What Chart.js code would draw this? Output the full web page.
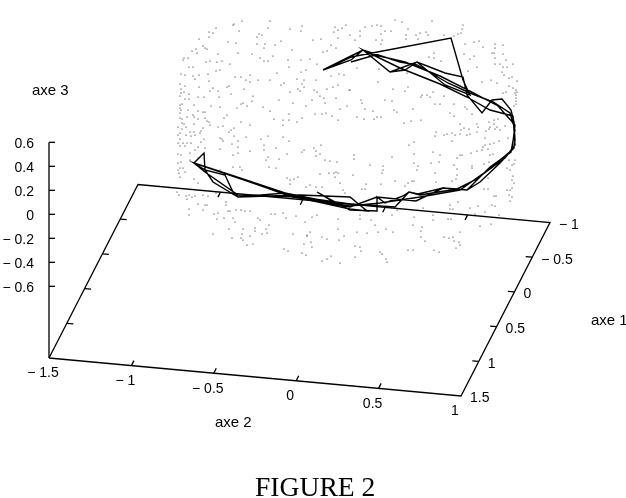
<!DOCTYPE html>
<html>
<head>
<meta charset="utf-8">
<style>
html,body{margin:0;padding:0;background:#fff;}
canvas{display:block;}
</style>
<script src="https://cdn.jsdelivr.net/npm/chart.js@4"></script>
</head>
<body>
<canvas id="chart" width="626" height="498"></canvas>
<script>
// -------- tick values --------
const axe1Ticks = [-1,-0.5,0,0.5,1,1.5];
const axe2Ticks = [-1.5,-1,-0.5,0,0.5,1];
const axe3Ticks = [0.6,0.4,0.2,0,-0.2,-0.4,-0.6];

// -------- point cloud (view x, view y) --------
const cloudPoints = [
[242,21],[234,24],[233,25],[216,28],[239,31],[209,32],[213,33],[209,37],[199,39],[257,37],[259,34],[262,35],[268,28],[270,21],[290,29],[302,26],[301,31],[281,41],[313,40],[321,39],[335,27],[346,25],[342,28],[338,30],[334,32],[338,38],[228,42],[236,43],[257,44],[265,44],[275,45],[264,48],[203,46],[205,48],[207,49],[196,49],[192,51],[197,53],[292,50],[331,45],[336,48],[327,51],[323,52],[238,53],[252,54],[218,54],[273,56],[260,58],[184,58],[183,60],[188,58],[310,59],[206,62],[210,61],[217,62],[222,61],[230,64],[264,61],[268,61],[288,60],[301,60],[317,64],[193,67],[189,67],[216,71],[220,70],[289,67],[306,70],[301,72],[208,74],[199,75],[193,76],[181,74],[185,75],[277,73],[235,77],[241,77],[246,80],[250,75],[250,82],[258,80],[270,80],[297,79],[304,80],[316,80],[331,76],[339,74],[344,75],[195,79],[209,81],[180,84],[284,83],[281,85],[302,84],[229,86],[227,87],[185,86],[199,87],[213,88],[181,89],[210,91],[218,91],[244,89],[304,87],[298,89],[314,90],[317,92],[327,89],[333,87],[338,85],[349,90],[231,94],[290,92],[300,91],[181,93],[184,92],[189,94],
[253,96],[180,96],[185,99],[189,99],[198,97],[204,97],[219,97],[279,100],[320,96],[324,98],[336,98],[312,100],[252,101],[243,103],[241,104],[247,106],[293,103],[306,106],[325,103],[194,105],[211,106],[220,107],[237,108],[263,107],[180,105],[182,104],[180,108],[181,110],[188,110],[198,111],[203,112],[205,112],[270,111],[340,109],[347,106],[315,114],[322,114],[326,113],[332,116],[289,114],[180,113],[193,115],[187,117],[194,117],[198,119],[205,118],[180,118],[182,119],[224,118],[227,115],[274,119],[283,120],[289,120],[302,118],[338,120],[207,121],[209,122],[210,125],[218,127],[223,126],[241,122],[283,125],[297,122],[250,125],[182,123],[184,124],[178,127],[186,127],[194,124],[203,128],[182,129],[234,128],[231,130],[201,131],[190,132],[194,132],[180,133],[178,135],[186,135],[195,135],[191,136],[200,133],[229,132],[234,136],[246,137],[268,136],[283,137],[261,139],[220,138],[222,139],[204,139],[180,139],
[395,20],[402,22],[432,21],[365,27],[372,26],[377,25],[381,26],[385,31],[391,31],[360,31],[350,35],[360,36],[408,29],[463,25],[462,29],[461,33],[458,34],[454,36],[444,35],[426,32],[420,33],[416,35],[406,35],[428,35],[381,34],[382,40],[376,40],[381,44],[406,39],[418,39],[355,40],[474,42],[479,41],[465,44],[483,47],[495,44],[503,45],[464,54],[495,48],[494,53],[492,53],[503,54],[513,64],[434,53],[429,57],[434,58],[441,61],[474,56],[470,59],[495,58],[495,64],[500,64],[506,60],[503,67],[507,67],[502,72],[504,75],[512,77],[509,78],[517,81],[477,67],[468,71],[357,68],[379,69],[405,62],[407,73],[378,82],[408,87],[393,89],[405,91],[482,82],[491,80],[497,83],[509,86],[513,88],[516,90],[517,92],[515,93],[516,95],[506,92],[503,93],[350,90],[433,92],[421,97],[422,95],[427,95],[430,97],[444,96],[361,100],[362,103],[385,100],[392,101],[435,104],[440,104],[454,104],[465,107],[516,98],[516,101],[516,104],[514,106],[365,109],[373,111],[394,110],[397,112],[413,109],[467,109],[472,114],[450,113],[454,116],[357,117],[364,119],[374,119],[377,117],[381,117],[404,123],[411,121],[421,120],[460,124],[477,124],[478,127],[489,122],[494,120],[498,119],[494,124],[497,127],[490,127],[489,129],[495,129],[500,130],[505,126],[464,128],[461,130],[469,129],[470,134],[460,134],[467,135],[477,132],[486,131],[436,132],[435,136],[444,135],[447,134],[452,133],[455,135],[485,138],[508,138],
[223,141],[238,141],[178,143],[183,143],[187,143],[191,143],[180,146],[185,146],[201,142],[198,147],[205,148],[232,144],[220,149],[238,147],[250,151],[264,145],[276,148],[264,150],[289,141],[287,154],[233,155],[238,153],[178,154],[181,155],[190,153],[195,150],[190,160],[198,158],[266,160],[279,159],[268,157],[304,150],[302,152],[314,148],[321,145],[316,151],[320,154],[316,156],[325,160],[330,161],[337,162],[178,163],[181,162],[180,168],[183,168],[178,170],[185,172],[179,173],[180,177],[220,170],[233,167],[240,167],[242,170],[269,167],[276,168],[334,173],[336,172],[329,173],[320,174],[338,173],[335,177],[298,177],[287,178],[290,180],[294,179],[290,184],[194,179],[198,183],[340,183],[310,185],[306,187],[316,187],[322,187],[343,190],[345,193],[177,192],[179,195],[186,196],[189,195],[192,197],[195,196],[187,199],[203,195],[208,196],[216,193],[226,202],[198,204],[205,205],[207,205],[226,205],[203,210],[189,209],[189,215],[214,214],[218,213],[228,211],[230,211],[236,210],[241,210],[245,211],[250,211],[233,218],[217,219],[224,218],[235,222],[258,218],[260,220],[271,214],[275,214],[283,213],[286,218],[296,216],[312,217],[317,215],[305,222],[338,219],[229,229],[213,234],[243,229],[255,228],[255,231],[269,225],[266,229],[267,233],[262,234],[242,234],[250,236],[232,238],[241,238],[243,240],[247,245],[253,244],[293,234],[307,235],[310,232],[307,236],[338,229],[322,237],[327,239],[339,240],[344,236],[304,244],[311,242],[312,247],[284,249],[288,251],[302,253],[306,255],[331,256],[327,259],[322,261],[340,263],
[414,142],[409,145],[452,141],[354,155],[354,159],[392,157],[414,154],[433,152],[440,155],[439,162],[431,163],[414,163],[370,165],[383,166],[383,170],[382,173],[418,166],[417,170],[435,173],[353,175],[462,155],[460,155],[457,158],[454,165],[457,169],[457,175],[456,179],[436,182],[452,181],[414,181],[412,181],[408,183],[405,186],[366,184],[362,189],[365,189],[381,184],[395,181],[471,153],[477,151],[482,150],[485,145],[490,144],[494,143],[499,141],[488,149],[483,147],[490,155],[493,154],[472,166],[472,168],[484,164],[489,162],[507,168],[509,160],[515,160],[514,164],[512,165],[506,156],[510,170],[513,176],[512,180],[514,183],[512,188],[510,190],[509,195],[512,197],[510,201],[488,178],[484,189],[488,189],[507,190],[496,196],[494,196],[492,205],[495,206],[478,206],[470,208],[450,205],[458,202],[450,209],[453,209],[475,214],[485,212],[499,215],[480,226],[491,224],[433,215],[433,220],[448,219],[451,219],[414,217],[413,225],[392,215],[423,208],[397,210],[360,215],[371,220],[360,219],[375,225],[386,229],[378,232],[393,232],[367,233],[357,232],[422,227],[421,231],[421,237],[425,241],[444,237],[449,238],[453,237],[460,232],[454,241],[459,242],[460,245],[456,248],[434,250],[439,252],[413,250],[408,250],[355,246],[360,247],[361,251],[355,257],[380,252],[382,254],[386,259],[387,262]
];

// -------- the trajectory, several noisy laps --------
const curvePoints = [
[323,70],[351,56],[363,50],[390,72],[417,62],[445,73],[463,77],[467,95],[482,113],[492,100],[502,99],[511,110],[514,122],[515,140],[514,148],[500,163],[480,182],[467,190],[457,189],[443,188],[418,194],[409,192],[403,196],[385,203],[377,197],[377,211],[350,210],[317,192],[335,203],[285,193],[238,197],[233,192],[225,175],[205,170],[204,153],[194,163],[240,178],[285,193],[300,198],[350,209],[367,211],
[350,197],[300,195],[238,197],[213,182],[205,170],[194,163],[250,182],[290,196],[350,207],[377,197],[416,201],[443,188],[467,190],[490,167],[511,152],[515,130],[510,113],[493,102],[470,93],[448,83],[417,65],[400,62],[363,50],[351,60],[323,70],
[351,57],[451,38],[463,80],[470,95],[445,85],[417,62],[405,70],[390,72],[363,50],[400,68],[440,84],[467,97],[490,110],[513,116],[515,145],[505,158],[475,180],[457,189],[420,195],[409,192],[395,207],[350,204],[300,197],[238,195],[205,172],
[194,163],[245,180],[292,197],[350,206],[380,203],[420,197],[460,190],[488,170],[512,150],[515,125],[498,106],[472,92],[440,76],[405,62],[375,55],[351,62]
];

// -------- projection of the 3d box to the page --------
function base(a1,a2){
    return {
        x: 49 + (a2+1.5)*164.8 + (1.5-a1)*35.6,
        y: 358 + (a2+1.5)*15.2 - (1.5-a1)*69.4
    };
}
function vert(a3){
    return {x: 49, y: 214.3 - a3*120};
}
function fmt(v){
    return v<0 ? '\u2212 '+Math.abs(v) : String(v);
}
function seg(p,dx,dy){
    return [p,{x:p.x+dx,y:p.y+dy}];
}

const lineSets = [];
// frame of the base and the vertical axis
lineSets.push([base(1.5,-1.5),base(-1,-1.5),base(-1,1),base(1.5,1),base(1.5,-1.5)]);
lineSets.push([vert(0.6),{x:49,y:358}]);
// ticks
axe3Ticks.forEach(v=>lineSets.push(seg(vert(v),6,0)));
axe2Ticks.slice(1,5).forEach(v=>{
    lineSets.push(seg(base(1.5,v),2.5,-5));
    lineSets.push(seg(base(-1,v),-2.5,5));
});
axe1Ticks.slice(1,5).forEach(v=>{
    lineSets.push(seg(base(v,1),-6.5,-0.5));
    lineSets.push(seg(base(v,-1.5),6.5,0.5));
});

const datasets = lineSets.map(pts=>({
    data:pts, showLine:true, pointRadius:0, borderColor:'#000', borderWidth:1.3
}));
datasets.push({
    data:curvePoints.map(p=>({x:p[0],y:p[1]})),
    showLine:true, pointRadius:0, borderColor:'#000', borderWidth:1.4, lineTension:0
});
datasets.push({
    data:cloudPoints.map(p=>({x:p[0],y:p[1]})),
    showLine:false, pointRadius:0.6, pointBorderWidth:0, pointBackgroundColor:'#000'
});

// -------- text labels --------
const textPlugin = {
    id:'textPlugin',
    afterDraw(chart){
        const ctx = chart.ctx, sx = chart.scales.x, sy = chart.scales.y;
        function put(str,x,y,align,font){
            ctx.font = font || '14px "Liberation Sans"';
            ctx.textAlign = align;
            ctx.textBaseline = 'middle';
            ctx.fillStyle = '#000';
            ctx.fillText(str,sx.getPixelForValue(x),sy.getPixelForValue(y)+1.5);
        }
        ctx.save();
        axe3Ticks.forEach(v=>{ let p=vert(v); put(fmt(v),34,p.y,'right'); });
        axe2Ticks.forEach(v=>{ let p=base(1.5,v); put(fmt(v),p.x-6,p.y+14,'center'); });
        axe1Ticks.forEach(v=>{ let p=base(v,1); put(fmt(v),p.x+9,p.y+1,'left'); });
        const titleFont = '15px "Liberation Sans"';
        put('axe 1',591,319,'left',titleFont);
        put('axe 2',215,421,'left',titleFont);
        put('axe 3',32,89,'left',titleFont);
        put('FIGURE 2',255,487,'left','27.6px "Liberation Serif"');
        ctx.restore();
    }
};

new Chart(document.getElementById('chart'),{
    type:'scatter',
    data:{datasets:datasets},
    options:{
        responsive:false,
        animation:false,
        layout:{padding:0,autoPadding:false},
        plugins:{legend:{display:false},tooltip:{enabled:false}},
        scales:{
            x:{type:'linear',min:0,max:626,display:false},
            y:{type:'linear',min:0,max:498,reverse:true,display:false}
        }
    },
    plugins:[textPlugin]
});
</script>
</body>
</html>
